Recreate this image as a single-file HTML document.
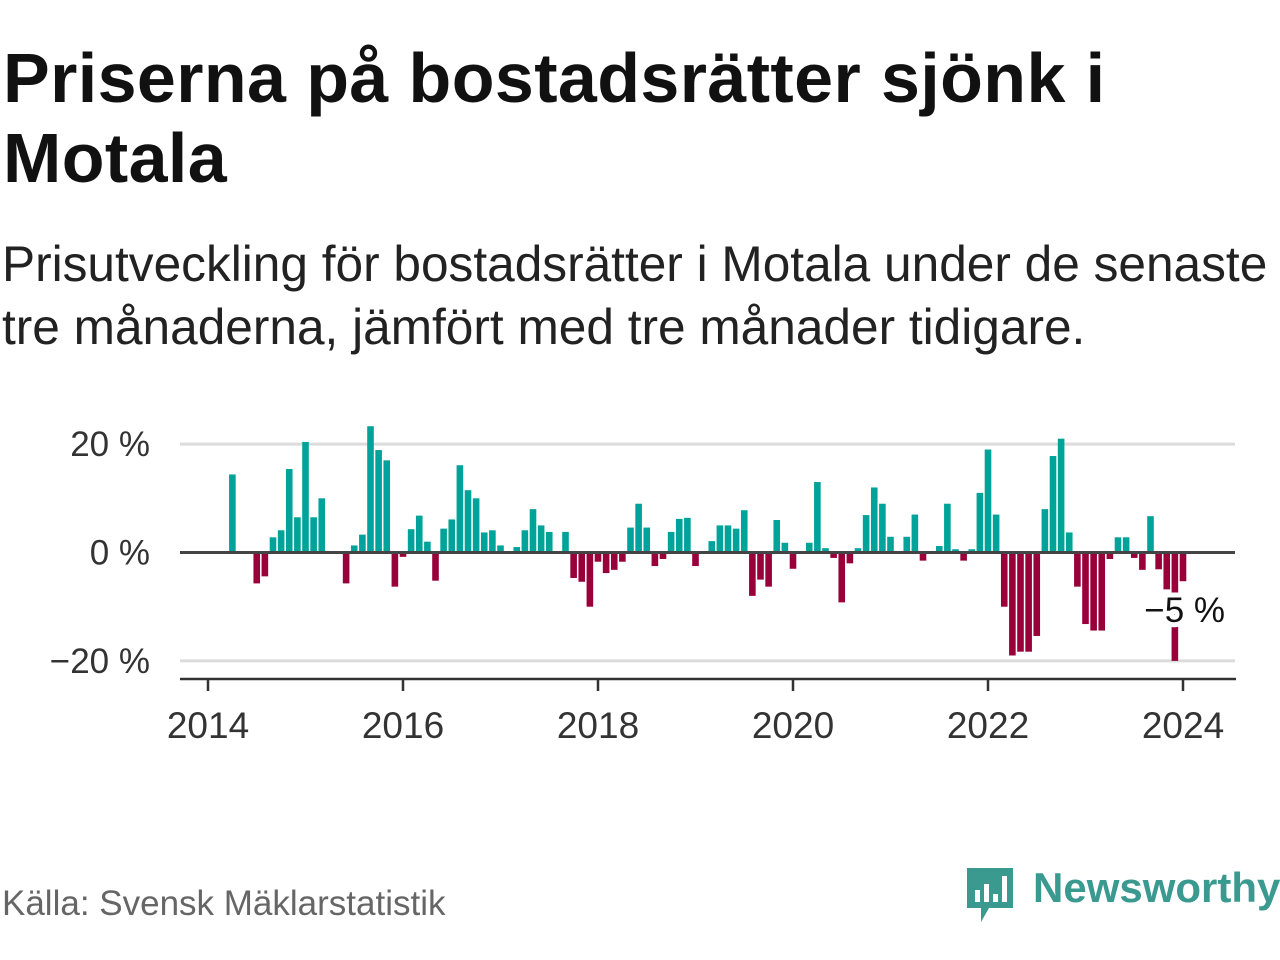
<!DOCTYPE html>
<html><head><meta charset="utf-8"><style>
body{margin:0;width:1280px;height:960px;background:#fff;font-family:"Liberation Sans",sans-serif;overflow:hidden;position:relative}
h1{position:absolute;left:3px;top:38px;margin:0;font-size:70px;line-height:80px;font-weight:bold;color:#111;letter-spacing:0.4px}
.sub{position:absolute;left:2px;top:233px;margin:0;font-size:49.6px;line-height:63px;color:#222}
.src{position:absolute;left:2px;top:884px;font-size:35px;color:#666}
.logo{position:absolute;left:965px;top:864px}
.logo span{position:absolute;left:68px;top:0px;font-size:42px;color:#3b9a90;font-weight:bold;white-space:nowrap}
svg{position:absolute;left:0;top:0}
</style></head><body>
<h1>Priserna på bostadsrätter sjönk i<br>Motala</h1>
<p class="sub">Prisutveckling för bostadsrätter i Motala under de senaste<br>tre månaderna, jämfört med tre månader tidigare.</p>
<svg id="chart" width="1280" height="960"></svg>
<div class="src">Källa: Svensk Mäklarstatistik</div>
<div class="logo">
<svg width="52" height="60" style="position:relative"><path d="M2 4h46v40H24l-8 14v-14H2z" fill="#3b9a90"/><rect x="10" y="26" width="5" height="12" fill="#fff"/><rect x="19" y="20" width="5" height="18" fill="#fff"/><rect x="28" y="30" width="5" height="8" fill="#fff"/><rect x="37" y="12" width="5" height="26" fill="#fff"/></svg>
<span>Newsworthy</span></div>
<script>
const startYear = 2014;
const yTicks = [20, 0, -20];
const yTickLabels = ["20 %", "0 %", "\u221220 %"];
const xTickYears = [2014, 2016, 2018, 2020, 2022, 2024];
// monthly values starting Jan 2014 (null = no data)
const values = [null,null,null,14.4,0,0,-5.7,-4.4,2.8,4.1,15.4,6.5,20.4,6.5,10,0,0,-5.7,1.3,3.3,23.3,18.9,17,-6.3,-0.8,4.3,6.8,2,-5.2,4.4,6.1,16.1,11.5,10,3.7,4.1,1.3,0,1,4.1,8,5,3.8,0,3.8,-4.7,-5.4,-10,-1.7,-3.8,-3.2,-1.7,4.6,9,4.6,-2.5,-1.2,3.8,6.2,6.4,-2.5,0,2.1,5,5,4.4,7.8,-8,-5,-6.3,6,1.8,-3,0,1.8,13,0.8,-1,-9.2,-2,0.8,6.9,12,9,2.9,0,2.9,7,-1.5,0,1.2,9,0.6,-1.5,0.6,11,19,7,-10,-19,-18.3,-18.3,-15.4,8,17.8,21,3.7,-6.3,-13.2,-14.4,-14.4,-1.2,2.8,2.8,-1,-3.2,6.7,-3.1,-6.8,-20,-5.3];
const lastLabel = "\u22125 %";

const svg = document.getElementById('chart');
const NS = 'http://www.w3.org/2000/svg';
const x0 = 208, pxPerMonth = 8.125, y0 = 552.5, pxPerPct = 5.42;
const xS = m => x0 + m * pxPerMonth;
const yS = v => y0 - v * pxPerPct;
function mk(tag, attrs){const e=document.createElementNS(NS,tag);for(const k in attrs)e.setAttribute(k,attrs[k]);svg.appendChild(e);return e;}

yTicks.forEach((t,i)=>{
  if(t!==0){const g=mk('line',{x1:180,x2:1235,y1:yS(t),y2:yS(t),stroke:'#dcdcdc','stroke-width':3});
  
  }
  const tx=mk('text',{x:150,y:yS(t)+12,'text-anchor':'end','font-size':35,fill:'#333','font-family':'Liberation Sans, sans-serif'});
  tx.textContent=yTickLabels[i];
  
  
});

values.forEach((v,i)=>{
  if(v===null||v===0)return;
  const y=v>0?yS(v):y0;
  const r=mk('rect',{x:xS(i)-3.3,y:y,width:6.6,height:Math.abs(v)*pxPerPct,fill:v>0?'#00a39a':'#99003a'});
  
  
});

const z=mk('line',{x1:180,x2:1235,y1:y0,y2:y0,stroke:'#444','stroke-width':3});



const li=values.length-1;
const lb=mk('text',{x:xS(li)+42,y:yS(values[li])+41,'text-anchor':'end','font-size':35,fill:'#111',stroke:'#fff','stroke-width':10,'paint-order':'stroke','font-family':'Liberation Sans, sans-serif'});
lb.textContent=lastLabel;



const ax=mk('line',{x1:180,x2:1236,y1:679,y2:679,stroke:'#333','stroke-width':2.5});


xTickYears.forEach(yr=>{
  const x=xS((yr-startYear)*12);
  const t=mk('line',{x1:x,x2:x,y1:679,y2:691,stroke:'#333','stroke-width':2.5});
  
  
  const tx=mk('text',{x:x,y:738,'text-anchor':'middle','font-size':37,fill:'#333','font-family':'Liberation Sans, sans-serif'});
  tx.textContent=yr;
  
  
});
</script>
</body></html>
